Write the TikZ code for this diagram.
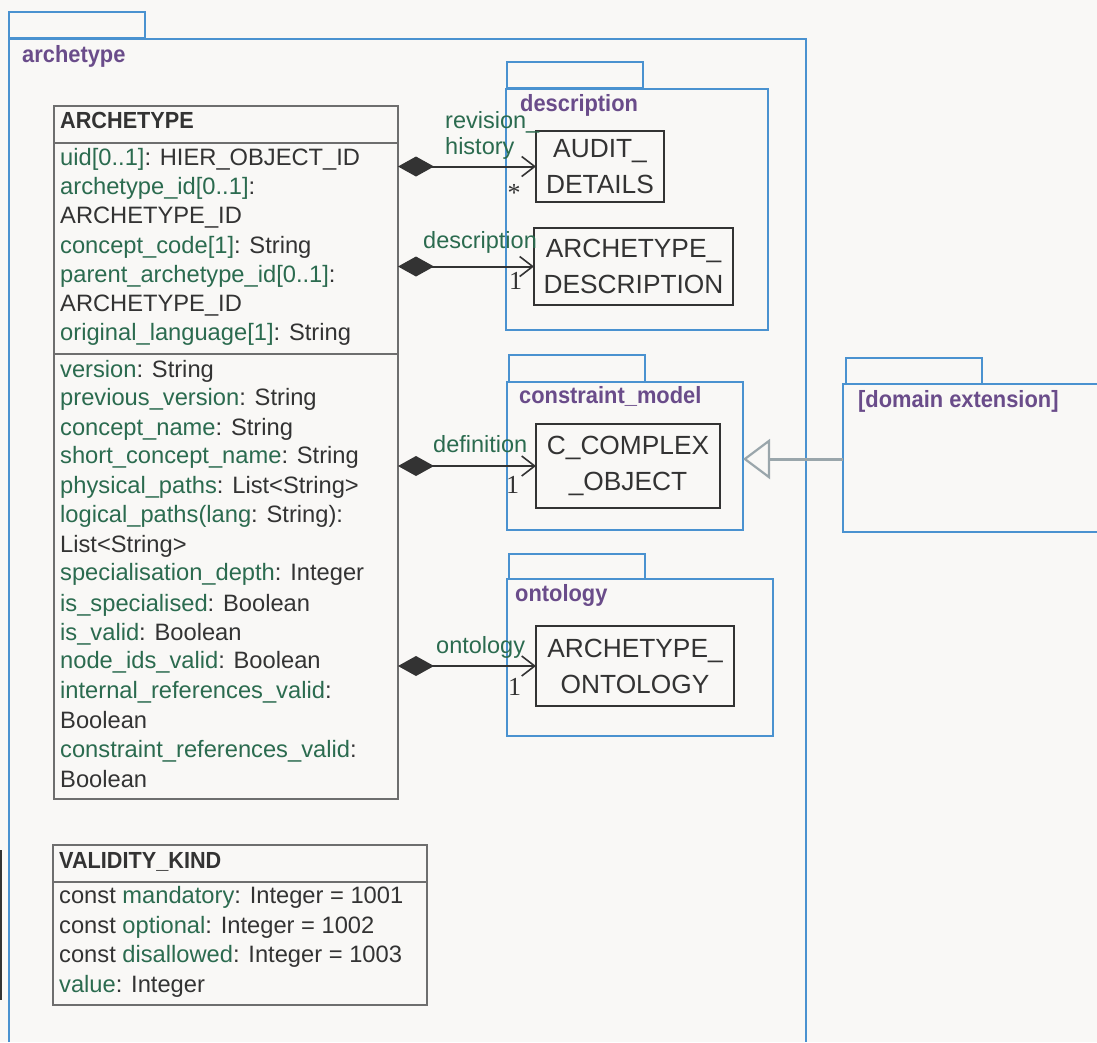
\documentclass[tikz,border=0pt]{standalone}
\usepackage{fontspec}
\setmainfont{Liberation Sans}
\newfontfamily\condfont{Liberation Sans}[FakeStretch=0.93]
\newfontfamily\multfont{Liberation Serif}
\usetikzlibrary{arrows.meta}
\definecolor{pkgblue}{HTML}{4A92D0}
\definecolor{pkgpurple}{HTML}{6A4C8A}
\definecolor{namegreen}{HTML}{2B6B4F}
\definecolor{textdark}{HTML}{333333}
\definecolor{paper}{HTML}{F9F8F6}
\definecolor{classgray}{HTML}{6E6E6E}
\definecolor{gengray}{HTML}{9AA6AB}
\newcommand{\nm}[1]{\textcolor{namegreen}{#1}}
\tikzset{pkgline/.style={draw=pkgblue, line width=2pt},
  pkgbody/.style={pkgline, anchor=north west, inner sep=0pt, outer sep=0pt},
  pkglabel/.style={anchor=base west, inner sep=0pt, text=pkgpurple, font=\condfont\bfseries\fontsize{23.5}{28}\selectfont},
  classnode/.style={draw=classgray, line width=1.3pt, anchor=north west, inner sep=0pt, outer sep=0pt},
  classline/.style={draw=classgray, line width=1.3pt},
  titlenode/.style={anchor=base west, inner sep=0pt, text=textdark, font=\condfont\bfseries\fontsize{23.3}{28}\selectfont},
  attrnode/.style={anchor=base west, inner sep=0pt, text=textdark, font=\fontsize{23.7}{29}\selectfont},
  boxnode/.style={draw=textdark, line width=2pt, anchor=north west, inner sep=0pt, outer sep=0pt, align=center, text=textdark, font=\fontsize{26.3}{36}\selectfont},
  rolenode/.style={anchor=base west, inner sep=0pt, text=namegreen, font=\fontsize{23.5}{28}\selectfont},
  multnode/.style={anchor=base west, inner sep=0pt, text=textdark, font=\multfont\fontsize{26}{30}\selectfont},
  assoc/.style={draw=textdark, line width=2pt, {Diamond[length=36pt,width=20pt,fill=textdark]}-{Straight Barb[length=13pt,width=20pt,line width=1.6pt]}},
  genline/.style={draw=gengray, line width=3pt, -{Triangle[open,length=27pt,width=40pt,line width=2.2pt]}}}

\begin{document}
\begin{tikzpicture}[x=1pt, y=-1pt]

% page
\fill[paper] (0,0) rectangle (1097,1042);
\useasboundingbox (0,0) rectangle (1097,1042);
\fill[textdark] (0,850) rectangle (2.3,1000);

% packages
\draw[pkgline] (9,12) rectangle (145,38);
\draw[pkgline] (9,1042) |- (806,39) -- (806,1042);
\node[pkglabel] (archlbl) at (22,62) {archetype};

\draw[pkgline] (507,62) rectangle (643,88);
\node[pkgbody, minimum width=262pt, minimum height=241pt] (descpkg) at (506,89) {};
\node[pkglabel] (desclbl) at (520,111) {description};

\draw[pkgline] (509,355) rectangle (645,382);
\node[pkgbody, minimum width=236pt, minimum height=148pt] (cmpkg) at (507,382) {};
\node[pkglabel] (cmlbl) at (519,403) {constraint\_model};

\draw[pkgline] (509,554) rectangle (645,579);
\node[pkgbody, minimum width=266pt, minimum height=157pt] (ontpkg) at (507,579) {};
\node[pkglabel] (ontlbl) at (515,601) {ontology};

\draw[pkgline] (846,358) rectangle (982,384);
\draw[pkgline] (1097,384) -| (843,532) -- (1097,532);
\node[pkglabel] (domlbl) at (858,407) {[domain extension]};
\coordinate (domext) at (843,459);

% ARCHETYPE class
\node[classnode, minimum width=344pt, minimum height=693pt] (archetype) at (54,106) {};
\draw[classline] (54,143) -- (398,143);
\draw[classline] (54,354) -- (398,354);
\node[titlenode] (t1) at (60,128) {ARCHETYPE};
\node[attrnode] (a1) at (60,165) {\nm{uid[0..1]}: HIER\_OBJECT\_ID};
\node[attrnode] (a2) at (60,194.5) {\nm{archetype\_id[0..1]}:};
\node[attrnode] (a3) at (60,223) {ARCHETYPE\_ID};
\node[attrnode] (a4) at (60,253) {\nm{concept\_code[1]}: String};
\node[attrnode] (a5) at (60,282) {\nm{parent\_archetype\_id[0..1]}:};
\node[attrnode] (a6) at (60,311.5) {ARCHETYPE\_ID};
\node[attrnode] (a7) at (60,340.5) {\nm{original\_language[1]}: String};
\node[attrnode] (b1) at (60,377) {\nm{version}: String};
\node[attrnode] (b2) at (60,405.5) {\nm{previous\_version}: String};
\node[attrnode] (b3) at (60,435) {\nm{concept\_name}: String};
\node[attrnode] (b4) at (60,463.5) {\nm{short\_concept\_name}: String};
\node[attrnode] (b5) at (60,493) {\nm{physical\_paths}: List<String>};
\node[attrnode] (b6) at (60,522) {\nm{logical\_paths(lang}: String):};
\node[attrnode] (b7) at (60,552) {List<String>};
\node[attrnode] (b8) at (60,580.5) {\nm{specialisation\_depth}: Integer};
\node[attrnode] (b9) at (60,611) {\nm{is\_specialised}: Boolean};
\node[attrnode] (b10) at (60,640) {\nm{is\_valid}: Boolean};
\node[attrnode] (b11) at (60,668.5) {\nm{node\_ids\_valid}: Boolean};
\node[attrnode] (b12) at (60,698) {\nm{internal\_references\_valid}:};
\node[attrnode] (b13) at (60,728) {Boolean};
\node[attrnode] (b14) at (60,757) {\nm{constraint\_references\_valid}:};
\node[attrnode] (b15) at (60,787) {Boolean};

% VALIDITY_KIND class
\node[classnode, minimum width=374pt, minimum height=160pt] (validity) at (53,845) {};
\draw[classline] (53,882) -- (427,882);
\node[titlenode] (t2) at (59,868) {VALIDITY\_KIND};
\node[attrnode] (v1) at (59,903) {const \nm{mandatory}: Integer = 1001};
\node[attrnode] (v2) at (59,933) {const \nm{optional}: Integer = 1002};
\node[attrnode] (v3) at (59,962) {const \nm{disallowed}: Integer = 1003};
\node[attrnode] (v4) at (59,992) {\nm{value}: Integer};

% boxes in packages
\node[boxnode, minimum width=128pt, minimum height=71pt] (audit) at (536,131) {AUDIT\_\\DETAILS};
\node[boxnode, minimum width=199pt, minimum height=77pt] (archdesc) at (534,228) {ARCHETYPE\_\\DESCRIPTION};
\node[boxnode, minimum width=184pt, minimum height=84pt] (ccomplex) at (536,424) {C\_COMPLEX\\\_OBJECT};
\node[boxnode, minimum width=198pt, minimum height=80pt] (archont) at (536,626) {ARCHETYPE\_\\ONTOLOGY};

% associations
\draw[assoc] (archetype.east |- audit.west) -- (audit.west);
\draw[assoc] (archetype.east |- archdesc.west) -- (archdesc.west);
\draw[assoc] (archetype.east |- ccomplex.west) -- (ccomplex.west);
\draw[assoc] (archetype.east |- archont.west) -- (archont.west);
\node[rolenode] (r1) at (445,128) {revision\_};
\node[rolenode] (r2) at (445,154) {history};
\node[rolenode] (r3) at (423,248) {description};
\node[rolenode] (r4) at (433,452) {definition};
\node[rolenode] (r5) at (436,653) {ontology};
\node[multnode, anchor=center] (m1) at (514,193) {*};
\node[multnode] (m2) at (509,289) {1};
\node[multnode] (m3) at (506,493) {1};
\node[multnode] (m4) at (508,695) {1};

% generalisation
\draw[genline] (domext) -- (cmpkg.east |- domext);

\end{tikzpicture}
\end{document}
